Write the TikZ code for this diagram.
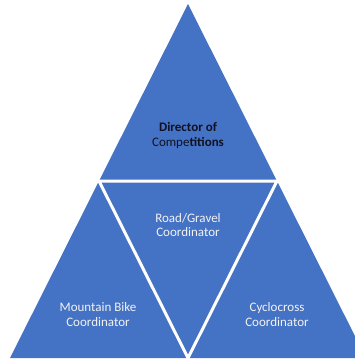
\documentclass[tikz,border=0pt]{standalone}
\usepackage{fontspec}
\setmainfont{Carlito}
\definecolor{pyr}{HTML}{4472C4}
\definecolor{lbl}{HTML}{F2F2F2}
\definecolor{dark}{HTML}{111122}
\begin{document}
\begin{tikzpicture}[x=1pt,y=-1pt,
  lab/.style={align=center,font=\fontsize{13}{14.5}\selectfont,text=lbl,inner sep=0pt},
  toplab/.style={align=center,font=\fontsize{13}{14.5}\selectfont,text=dark,inner sep=0pt}]
\useasboundingbox (0,0) rectangle (355,362);
\begin{scope}
\clip (0,0) rectangle (355,362);
\coordinate (A) at (188,4);
\coordinate (L) at (10,358);
\coordinate (R) at (366,358);
\coordinate (ML) at (99,181);
\coordinate (MR) at (277,181);
\coordinate (MB) at (188,358);
\fill[pyr] (A) -- (L) -- (R) -- cycle;
\draw[white,line width=3pt] (ML) -- (MR) -- (MB) -- cycle;
\end{scope}
\node[toplab] (top) at (188,135.5) {\textbf{Director of}\\Compe\textbf{titions}};
\node[lab] (mid) at (188,225) {Road/Gravel\\Coordinator};
\node[lab] (left) at (98,314.5) {Mountain Bike\\Coordinator};
\node[lab] (right) at (277,314.5) {Cyclocross\\Coordinator};
\end{tikzpicture}
\end{document}
